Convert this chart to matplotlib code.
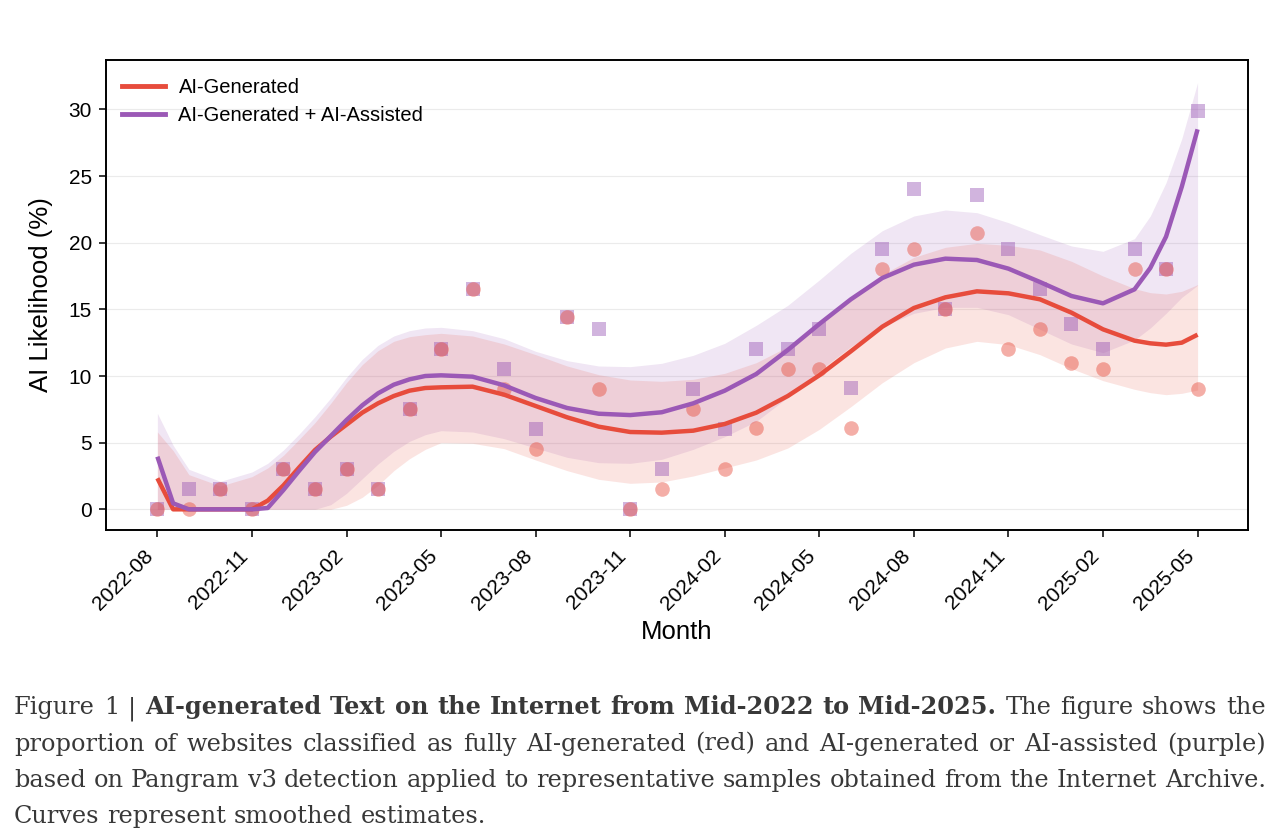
import matplotlib
matplotlib.use('Agg')
import matplotlib.pyplot as plt
from matplotlib.lines import Line2D

plt.rcParams['font.family'] = ['Liberation Sans', 'DejaVu Sans']

# ---------------- data ----------------
months = ['2022-08', '2022-09', '2022-10', '2022-11', '2022-12', '2023-01', '2023-02',
          '2023-03', '2023-04', '2023-05', '2023-06', '2023-07', '2023-08', '2023-09',
          '2023-10', '2023-11', '2023-12', '2024-01', '2024-02', '2024-03', '2024-04',
          '2024-05', '2024-06', '2024-07', '2024-08', '2024-09', '2024-10', '2024-11',
          '2024-12', '2025-01', '2025-02', '2025-03', '2025-04', '2025-05']

ai_generated = [0, 0, 1.5, 0, 3, 1.5, 3, 1.5, 7.5, 12, 16.5, 9, 4.5, 14.4, 9, 0, 1.5,
                7.5, 3, 6.1, 10.5, 10.5, 6.1, 18, 19.5, 15, 20.7, 12, 13.5, 11, 10.5,
                18, 18, 9]
ai_gen_assisted = [0, 1.5, 1.5, 0, 3, 1.5, 3, 1.5, 7.5, 12, 16.5, 10.5, 6, 14.4, 13.5,
                   0, 3, 9, 6, 12, 12, 13.5, 9.1, 19.5, 24, 15, 23.6, 19.5, 16.5, 13.9,
                   12, 19.5, 18, 29.9]

# smoothed estimates at these month positions
curve_pos = [0, 0.5, 1, 2, 3, 3.5, 4, 4.5, 5, 5.5, 6, 6.5, 7, 7.5, 8, 8.5,
             9, 10, 11, 12, 13, 14, 15, 16, 17, 18, 19, 20, 21, 22, 23, 24, 25, 26,
             27, 28, 29, 30, 31, 31.5, 32, 32.5, 33]

gen_fit = [2.33, 0, 0, 0, 0, 0.65, 1.8, 3.15, 4.45, 5.45, 6.35, 7.25, 7.95, 8.5, 8.9,
           9.1, 9.15, 9.2, 8.6, 7.75, 6.9, 6.2, 5.8, 5.75, 5.9, 6.4, 7.25, 8.5, 10.05,
           11.85, 13.7, 15.1, 15.9, 16.35, 16.2, 15.75, 14.75, 13.5, 12.65, 12.45,
           12.35, 12.5, 13.1]
gen_upper = [5.8, 4.4, 2.6, 1.75, 2.45, 3.1, 4.05, 5.25, 6.5, 7.95, 9.5, 10.85, 11.9,
             12.6, 12.95, 13.1, 13.2, 13.0, 12.4, 11.6, 10.75, 10.1, 9.7, 9.6, 9.75,
             10.2, 11.0, 12.2, 13.9, 15.8, 17.6, 18.9, 19.65, 19.95, 19.8, 19.45, 18.6,
             17.5, 16.55, 16.25, 16.15, 16.35, 16.85]
gen_lower = [0, 0, 0, 0, 0, 0, 0, 0, 0, 0, 0.3, 0.9, 1.8, 2.9, 3.8, 4.5, 5.0, 4.95,
             4.55, 3.7, 2.9, 2.25, 1.95, 2.05, 2.5, 3.1, 3.7, 4.6, 6.0, 7.7, 9.5, 11.0,
             12.1, 12.6, 12.35, 11.6, 10.55, 9.65, 9.0, 8.75, 8.6, 8.7, 8.95]

assist_fit = [3.95, 0.45, 0, 0, 0, 0.1, 1.45, 2.9, 4.3, 5.5, 6.7, 7.8, 8.7, 9.35, 9.75,
              10.0, 10.05, 9.95, 9.3, 8.35, 7.6, 7.17, 7.07, 7.28, 7.95, 8.9, 10.15,
              11.95, 13.9, 15.75, 17.35, 18.35, 18.8, 18.7, 18.05, 17.05, 16.0, 15.45,
              16.5, 18.1, 20.45, 24.2, 28.5]
assist_upper = [7.2, 4.8, 3.0, 2.1, 2.8, 3.45, 4.45, 5.65, 6.95, 8.35, 9.9, 11.25, 12.3,
                13.0, 13.4, 13.6, 13.65, 13.4, 12.8, 11.85, 11.15, 10.75, 10.7, 10.95,
                11.55, 12.45, 13.8, 15.3, 17.2, 19.2, 20.9, 22.0, 22.45, 22.25, 21.5,
                20.6, 19.75, 19.35, 20.3, 22.0, 24.5, 27.8, 32.0]
assist_lower = [0, 0, 0, 0, 0, 0, 0, 0, 0, 0.35, 1.2, 2.3, 3.4, 4.35, 5.1, 5.6, 5.9,
                5.8, 5.3, 4.6, 3.9, 3.5, 3.45, 3.75, 4.5, 5.45, 6.6, 8.4, 10.4, 12.2,
                13.7, 14.7, 15.15, 15.15, 14.6, 13.5, 12.4, 11.75, 12.7, 13.6, 14.7,
                15.9, 16.8]

series_labels = ['AI-Generated', 'AI-Generated + AI-Assisted']
y_ticks = [0, 5, 10, 15, 20, 25, 30]

RED = '#e74c3c'
PURPLE = '#9b59b6'

# ---------------- figure ----------------
W, H = 1288, 838
fig = plt.figure(figsize=(W / 100, H / 100), dpi=100)
ax = fig.add_axes([106 / W, 1 - 530 / H, (1248 - 106) / W, (530 - 60) / H])

x = list(range(len(months)))

ax.fill_between(curve_pos, assist_lower, assist_upper, color=PURPLE, alpha=0.15,
                linewidth=0, zorder=1)
ax.fill_between(curve_pos, gen_lower, gen_upper, color=RED, alpha=0.15,
                linewidth=0, zorder=1)

ax.scatter(x, ai_gen_assisted, marker='s', s=110, color=PURPLE, alpha=0.45,
           linewidths=0, zorder=2)
ax.scatter(x, ai_generated, marker='o', s=110, color=RED, alpha=0.45,
           linewidths=0, zorder=2)

ax.plot(curve_pos, gen_fit, color=RED, lw=3.2, zorder=3, solid_capstyle='butt',
        solid_joinstyle='round')
ax.plot(curve_pos, assist_fit, color=PURPLE, lw=3.2, zorder=3, solid_capstyle='butt',
        solid_joinstyle='round')

ax.set_xlim(-1.63, 34.6)
ax.set_ylim(-1.55, 33.7)
ax.set_yticks(y_ticks)
ax.set_yticklabels([str(v) for v in y_ticks])
ax.set_xticks(x[::3])
ax.set_xticklabels(months[::3], rotation=45, ha='right')

ax.grid(axis='y', color='#ebebeb', linewidth=0.8, zorder=0)
ax.set_axisbelow(True)
for sp in ax.spines.values():
    sp.set_linewidth(1.4)
    sp.set_color('black')
ax.tick_params(axis='both', direction='out', length=5, width=1.1, labelsize=15,
               colors='black')
ax.tick_params(axis='x', pad=7)
ax.tick_params(axis='y', pad=5)
ax.set_xlabel('Month', fontsize=18.5, labelpad=4)
ax.set_ylabel('AI Likelihood (%)', fontsize=18.5, labelpad=11)

handles = [Line2D([0], [0], color=RED, lw=3.5), Line2D([0], [0], color=PURPLE, lw=3.5)]
ax.legend(handles, series_labels, loc='upper left', frameon=False, fontsize=14.5,
          handlelength=2.15, handletextpad=0.65, labelspacing=0.42,
          borderaxespad=0.4, bbox_to_anchor=(0.0, 0.995))

# ---------------- caption (justified) ----------------
caption_lines = [
    [("Figure 1 |", False),
     ("AI-generated Text on the Internet from Mid-2022 to Mid-2025.", True),
     ("The figure shows the", False)],
    [("proportion of websites classified as fully AI-generated (red) and AI-generated or AI-assisted (purple)", False)],
    [("based on Pangram v3 detection applied to representative samples obtained from the Internet Archive.", False)],
    [("Curves represent smoothed estimates.", False)],
]
baselines = [714, 750.5, 787, 823]
x_left, x_right = 14, 1266
cap_family = ['DejaVu Serif']
cap_color = '#383838'

fig.canvas.draw()
renderer = fig.canvas.get_renderer()


def measure(word, bold, fs):
    t = fig.text(0, 0, word, fontsize=fs, family=cap_family,
                 weight='bold' if bold else 'normal')
    w = t.get_window_extent(renderer).width
    t.remove()
    return w


def tokens(line):
    out = []
    for chunk, bold in line:
        for w in chunk.split(' '):
            out.append((w, bold))
    return out


fs = 18.0
space_w = measure('a a', False, fs) - measure('aa', False, fs)
nat = []
for line in caption_lines:
    toks = tokens(line)
    nat.append(sum(measure(w, b, fs) for w, b in toks) + space_w * (len(toks) - 1))
scale = min(1.0, (x_right - x_left) * 0.995 / max(nat))
fs = fs * scale
space_w = measure('a a', False, fs) - measure('aa', False, fs)

for i, line in enumerate(caption_lines):
    toks = tokens(line)
    widths = [measure(w, b, fs) for w, b in toks]
    if i < len(caption_lines) - 1:
        gap = (x_right - x_left - sum(widths)) / (len(toks) - 1)
    else:
        gap = space_w
    xp = x_left
    for (w, b), wd in zip(toks, widths):
        fig.text(xp / W, 1 - baselines[i] / H, w, fontsize=fs, family=cap_family,
                 weight='bold' if b else 'normal', color=cap_color, va='baseline',
                 ha='left')
        xp += wd + gap

fig.savefig('out.png', dpi=100)
